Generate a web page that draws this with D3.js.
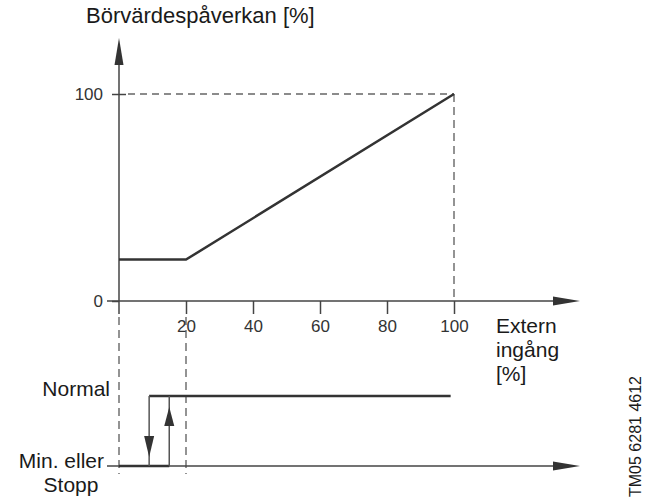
<!DOCTYPE html>
<html><head><meta charset="utf-8">
<script src="https://cdn.jsdelivr.net/npm/d3@7"></script>
<style>
html,body{margin:0;padding:0;background:#fff;}
svg{display:block;font-family:"Liberation Sans",Arial,Helvetica,sans-serif;}
</style></head>
<body>
<svg id="chart" width="653" height="499"></svg>
<script>
// ---- data ----
const xTicks = [20, 40, 60, 80, 100];
const yTicks = [0, 100];
const curveX = [0, 20, 100];
const curveY = [20, 20, 100];
const states = ["Min. eller Stopp", "Normal"];
const normalRange = [9, 99];     // Normal level, x from..to
const stopRange = [0, 15];       // Min/stop level, x from..to
const switchDown = 9;            // Normal -> Min at x
const switchUp = 15;             // Min -> Normal at x
const title = "Börvärdespåverkan [%]";
const xLabel = ["Extern", "ingång", "[%]"];
const stateLabels = ["Normal", "Min. eller", "Stopp"];
const docId = "TM05 6281 4612";

// ---- scales ----
const x = d3.scaleLinear().domain([0, 100]).range([119, 454]);
const y = d3.scaleLinear().domain([0, 100]).range([301, 94]);
const ys = d3.scalePoint().domain(states).range([466, 396]);

const svg = d3.select("#chart");
const axisCol = "#444", dashCol = "#666", lineCol = "#333", txtCol = "#1a1a1a";

function arrow(tipX, tipY, dir, len, half) {
  let pts;
  if (dir === "up") pts = [[tipX, tipY], [tipX - half, tipY + len], [tipX + half, tipY + len]];
  else if (dir === "down") pts = [[tipX, tipY], [tipX - half, tipY - len], [tipX + half, tipY - len]];
  else pts = [[tipX, tipY], [tipX - len, tipY - half], [tipX - len, tipY + half]];
  svg.append("path").attr("d", d3.line()(pts) + "Z").attr("fill", "#333");
}

// dashed guides
const dash = svg.append("g").attr("stroke", dashCol).attr("stroke-width", 1.4).attr("fill", "none");
dash.append("line").attr("x1", x(0) + 9).attr("x2", x(100)).attr("y1", y(100)).attr("y2", y(100)).attr("stroke-dasharray", "7,5");
dash.append("line").attr("x1", x(100)).attr("x2", x(100)).attr("y1", y(100)).attr("y2", y(0)).attr("stroke-dasharray", "8,5");
[0, 20].forEach(v => {
  dash.append("line").attr("x1", x(v)).attr("x2", x(v)).attr("y1", y(0) + 16).attr("y2", 474).attr("stroke-dasharray", "8,5");
});

// axes (upper)
const ax = svg.append("g").attr("stroke", axisCol).attr("stroke-width", 1.5);
ax.append("line").attr("x1", x(0)).attr("x2", x(0)).attr("y1", y(0) + 13).attr("y2", 64);
ax.append("line").attr("x1", x(0) - 12).attr("x2", 555).attr("y1", y(0)).attr("y2", y(0));
arrow(x(0), 38, "up", 27, 4.5);
arrow(580, y(0), "right", 27, 4.5);

// x ticks and labels via d3 axis
const xAxis = d3.axisBottom(x).tickValues(xTicks).tickSize(13).tickPadding(6).tickFormat(d3.format("d"));
const gx = svg.append("g").attr("transform", `translate(0,${y(0)})`).call(xAxis);
gx.select(".domain").remove();
gx.selectAll(".tick line").attr("stroke", axisCol).attr("stroke-width", 1.5);
gx.selectAll(".tick text").attr("font-size", 17).attr("fill", "#333").attr("font-family", "Liberation Sans, Arial, sans-serif").attr("dy", "0.71em");

// y ticks
const yAxis = d3.axisLeft(y).tickValues(yTicks).tickSize(7).tickPadding(10).tickFormat(d3.format("d"));
const gy = svg.append("g").attr("transform", `translate(${x(0)},0)`).call(yAxis);
gy.select(".domain").remove();
gy.selectAll(".tick line").attr("stroke", axisCol).attr("stroke-width", 1.5).attr("x2", -7);
gy.selectAll(".tick").filter(d => d === 100).select("line").attr("x1", 7);
gy.selectAll(".tick text").attr("font-size", 17).attr("fill", "#333").attr("font-family", "Liberation Sans, Arial, sans-serif").attr("x", -16);

// data curve
const curve = curveX.map((v, i) => [v, curveY[i]]);
svg.append("path").datum(curve)
  .attr("d", d3.line().x(d => x(d[0])).y(d => y(d[1])))
  .attr("fill", "none").attr("stroke", lineCol).attr("stroke-width", 2.5);

// lower panel axis
ax.append("line").attr("x1", x(0) - 12).attr("x2", 555).attr("y1", ys(states[0])).attr("y2", ys(states[0]));
arrow(580, ys(states[0]), "right", 27, 4.5);

// state levels
svg.append("line").attr("x1", x(normalRange[0])).attr("x2", x(normalRange[1]))
  .attr("y1", ys(states[1])).attr("y2", ys(states[1])).attr("stroke", lineCol).attr("stroke-width", 2.5);
svg.append("line").attr("x1", x(stopRange[0])).attr("x2", x(stopRange[1]))
  .attr("y1", ys(states[0])).attr("y2", ys(states[0])).attr("stroke", lineCol).attr("stroke-width", 2.5);

// switching verticals
svg.append("line").attr("x1", x(switchDown)).attr("x2", x(switchDown))
  .attr("y1", ys(states[1])).attr("y2", ys(states[0])).attr("stroke", "#555").attr("stroke-width", 1.5);
svg.append("line").attr("x1", x(switchUp)).attr("x2", x(switchUp))
  .attr("y1", ys(states[1])).attr("y2", ys(states[0])).attr("stroke", "#555").attr("stroke-width", 1.5);
arrow(x(switchDown), ys(states[0]) - 9, "down", 21, 5);
arrow(x(switchUp), ys(states[1]) + 11, "up", 19, 5);

// texts
const t = svg.append("g").attr("fill", txtCol).attr("font-size", 21);
t.append("text").attr("x", 86).attr("y", 23).attr("font-size", 22).text(title);
xLabel.forEach((s, i) => t.append("text").attr("x", 496).attr("y", 333 + i * 24).text(s));
t.append("text").attr("x", 110).attr("y", ys(states[1])).attr("text-anchor", "end").text(stateLabels[0]);
t.append("text").attr("x", 104).attr("y", ys(states[0]) + 2).attr("text-anchor", "end").text(stateLabels[1]);
t.append("text").attr("x", 71).attr("y", ys(states[0]) + 26).attr("text-anchor", "middle").text(stateLabels[2]);
svg.append("text").attr("transform", "translate(641,497) rotate(-90)")
  .attr("font-size", 16).attr("fill", txtCol).text(docId);
</script>
</body></html>
